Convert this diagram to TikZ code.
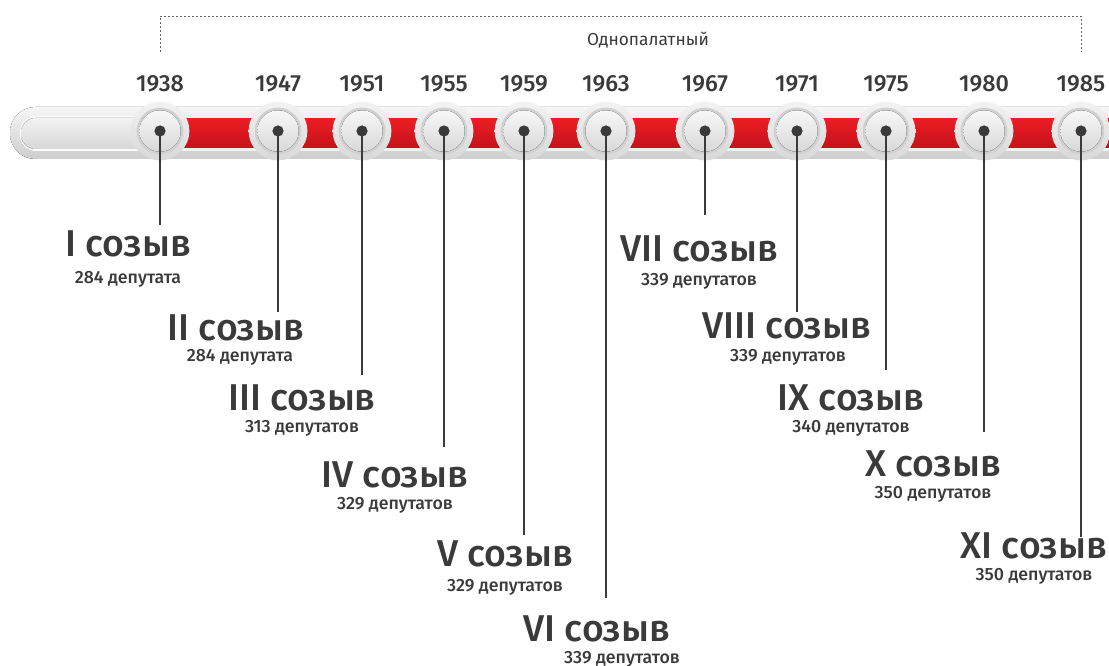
\documentclass[tikz,border=0pt]{standalone}
\usepackage{fontspec}
\setmainfont{Fira Sans}[BoldFont={Fira Sans Medium}]
\definecolor{txt}{HTML}{3A3A3A}
\definecolor{redtop}{HTML}{EC1C24}
\definecolor{redbot}{HTML}{C4121A}
\definecolor{bartop}{HTML}{F6F6F6}
\definecolor{barbot}{HTML}{CDCDCD}
\definecolor{disctop}{HTML}{F2F2F2}
\definecolor{discbot}{HTML}{D8D8D8}
\definecolor{ring}{HTML}{D0D0D0}
\tikzset{
  title/.style={anchor=base, text=txt, font=\bfseries\fontsize{28}{30}\selectfont, inner sep=0pt},
  sub/.style={anchor=base, text=txt, font=\bfseries\fontsize{13.3}{15}\selectfont, inner sep=0pt},
  year/.style={anchor=base, text=txt, font=\bfseries\fontsize{17.5}{19}\selectfont, inner sep=0pt},
  stopdisc/.style={circle, minimum size=44pt, inner sep=0pt, top color=disctop, bottom color=discbot},
  pin/.style={draw=txt, line width=1pt},
}
\begin{document}
\begin{tikzpicture}[x=0.75pt,y=-0.75pt]
\useasboundingbox (0,0) rectangle (1109,666);
\begin{scope}
\clip (0,0) rectangle (1109,666);
% bar
\fill[top color=bartop, bottom color=barbot, rounded corners=19pt] (10,107) rectangle (1160,159);
\fill[white!60!bartop, rounded corners=12pt] (20,116) rectangle (150,151);
\fill[top color=bartop!90!barbot, bottom color=barbot!80, rounded corners=11pt] (21,118) rectangle (150,149);
\fill[white!70!barbot] (150,117) rectangle (1160,151);
\fill[top color=redtop, bottom color=redbot] (150,119) rectangle (1160,148);
% stops
\foreach \i/\x in {1/160,2/278,3/362,4/444,5/524,6/606,7/705,8/797,9/886,10/984,11/1081}{
  \node[stopdisc] (c\i) at (\x,131) {};
  \fill[ring] (c\i.center) circle (17.5pt);
  \fill[top color=disctop!60!white, bottom color=discbot] (c\i.center) circle (15.5pt);
}
\end{scope}
% bracket
\coordinate (b1) at (160,52);
\coordinate (b2) at (1081,52);
\draw[txt!80, dash pattern=on 1.5pt off 1.5pt, line width=0.6pt] (b1) -- (b1 |- 0,16) -- (b2 |- 0,16) -- (b2);
\node[anchor=base, text=txt, font=\fontsize{13}{15}\selectfont, inner sep=0pt] (uni) at (648,46) {Однопалатный};
% years
\foreach \i/\x/\y in {1/160/1938,2/278/1947,3/362/1951,4/444/1955,5/524/1959,6/606/1963,7/705/1967,8/797/1971,9/886/1975,10/984/1980,11/1081/1985}{
  \node[year] (y\i) at (\x,92) {\y};
}
% pins
\foreach \i/\x/\e in {1/160/225,2/278/312,3/362/375,4/444/447,5/524/535,6/606/598,7/705/215,8/797/312,9/886/370,10/984/432,11/1081/537}{
  \coordinate (e\i) at (\x,\e);
  \draw[pin] (c\i.center) -- (e\i);
  \fill[txt] (c\i.center) circle (4.2pt);
}
% labels
\node[title] (t1) at (128,257) {I созыв};
\node[sub] (s1) at (128,284) {284 депутата};
\node[title] (t2) at (236,340) {II созыв};
\node[sub] (s2) at (240,361) {284 депутата};
\node[title] (t3) at (302,410) {III созыв};
\node[sub] (s3) at (302,432) {313 депутатов};
\node[title] (t4) at (395,487) {IV созыв};
\node[sub] (s4) at (395,509) {329 депутатов};
\node[title] (t5) at (505,566) {V созыв};
\node[sub] (s5) at (505,591) {329 депутатов};
\node[title] (t6) at (597,641) {VI созыв};
\node[sub] (s6) at (622,663) {339 депутатов};
\node[title] (t7) at (699,262) {VII созыв};
\node[sub] (s7) at (699,286) {339 депутатов};
\node[title] (t8) at (787,339) {VIII созыв};
\node[sub] (s8) at (788,361) {339 депутатов};
\node[title] (t9) at (851,410) {IX созыв};
\node[sub] (s9) at (851,432) {340 депутатов};
\node[title] (t10) at (933,476) {X созыв};
\node[sub] (s10) at (933,498) {350 депутатов};
\node[title] (t11) at (1034,558) {XI созыв};
\node[sub] (s11) at (1034,580) {350 депутатов};
\end{tikzpicture}
\end{document}
